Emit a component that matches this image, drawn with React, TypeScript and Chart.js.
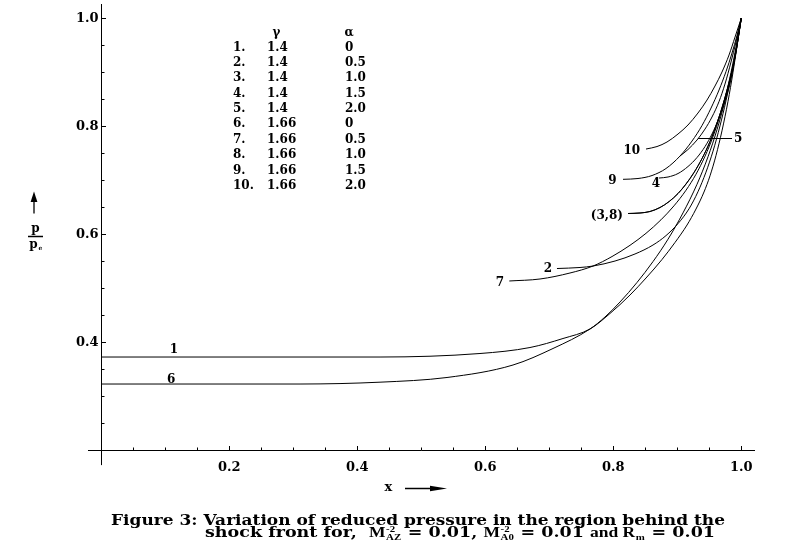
import React, { useEffect, useRef } from 'react';
import { Chart, registerables } from 'chart.js';

Chart.register(...registerables);

type Pt = [number, number];

// ---- data: [x, p/pe] ----
const curve1: Pt[] = [[0, 0.3722], [0.4355, 0.3722], [0.5917, 0.3787], [0.6698, 0.3898], [0.7214, 0.4065], [0.7636, 0.4241], [0.7948, 0.4528], [0.8261, 0.487], [0.8511, 0.5185], [0.8761, 0.5528], [0.8964, 0.5843], [0.9152, 0.6167], [0.9292, 0.6463], [0.9417, 0.6778], [0.9511, 0.7078], [0.9605, 0.7456], [0.9698, 0.7911], [0.9792, 0.8456], [0.987, 0.8993], [0.9933, 0.9481], [1, 1]];
const curve2: Pt[] = [[0.712, 0.5361], [0.748, 0.538], [0.7683, 0.5407], [0.8027, 0.55], [0.8339, 0.563], [0.862, 0.5796], [0.8823, 0.597], [0.9011, 0.6193], [0.9183, 0.6467], [0.9323, 0.6783], [0.9448, 0.7146], [0.9558, 0.7535], [0.9667, 0.8002], [0.9761, 0.8469], [0.9839, 0.8913], [0.9917, 0.9413], [1, 1]];
const curve3: Pt[] = [[0.823, 0.638], [0.8417, 0.6389], [0.8573, 0.6417], [0.873, 0.6491], [0.8873, 0.6602], [0.9011, 0.675], [0.9136, 0.6926], [0.9261, 0.7139], [0.9386, 0.7398], [0.9511, 0.7713], [0.962, 0.8056], [0.973, 0.8463], [0.9823, 0.887], [0.9902, 0.9278], [1, 1]];
const curve4: Pt[] = [[0.8714, 0.7037], [0.8855, 0.7056], [0.9011, 0.712], [0.9167, 0.725], [0.9308, 0.7417], [0.9433, 0.762], [0.9542, 0.7852], [0.9652, 0.8148], [0.9745, 0.8463], [0.9839, 0.887], [0.9917, 0.937], [1, 1]];
const curve5: Pt[] = [[0.9042, 0.7444], [0.9167, 0.7565], [0.9308, 0.7741], [0.9433, 0.7944], [0.9542, 0.8167], [0.9652, 0.8454], [0.9745, 0.8778], [0.9839, 0.9185], [0.9917, 0.9556], [1, 1]];
const curve6: Pt[] = [[0, 0.3222], [0.3105, 0.3222], [0.4355, 0.3256], [0.5402, 0.3343], [0.6433, 0.3574], [0.7058, 0.388], [0.7636, 0.4241], [0.787, 0.4463], [0.8105, 0.4741], [0.837, 0.5102], [0.862, 0.5489], [0.8855, 0.5904], [0.9089, 0.6391], [0.9308, 0.6922], [0.948, 0.7431], [0.962, 0.7931], [0.9745, 0.8465], [0.987, 0.9102], [1, 1]];
const curve7: Pt[] = [[0.6375, 0.513], [0.6855, 0.5167], [0.7323, 0.5278], [0.7683, 0.5407], [0.798, 0.5583], [0.8261, 0.5791], [0.8511, 0.6013], [0.8745, 0.6263], [0.8948, 0.6522], [0.9136, 0.6811], [0.9292, 0.7107], [0.9433, 0.7441], [0.9558, 0.7804], [0.9667, 0.8193], [0.9761, 0.8593], [0.9839, 0.8991], [0.9917, 0.9454], [1, 1]];
// curve 8 coincides with curve 3 in the figure (label "(3,8)")
const curve8: Pt[] = [[0.823, 0.638], [0.8417, 0.6389], [0.8573, 0.6417], [0.873, 0.6491], [0.8873, 0.6602], [0.9011, 0.675], [0.9136, 0.6926], [0.9261, 0.7139], [0.9386, 0.7398], [0.9511, 0.7713], [0.962, 0.8056], [0.973, 0.8463], [0.9823, 0.887], [0.9902, 0.9278], [1, 1]];
const curve9: Pt[] = [[0.8152, 0.7013], [0.8386, 0.7028], [0.8605, 0.7083], [0.8823, 0.7213], [0.9042, 0.7444], [0.923, 0.7722], [0.9386, 0.8009], [0.9527, 0.8333], [0.9652, 0.8667], [0.9761, 0.9009], [0.9855, 0.9352], [0.9933, 0.9676], [1, 1]];
const curve10: Pt[] = [[0.8511, 0.7574], [0.8683, 0.762], [0.8839, 0.7704], [0.9011, 0.7852], [0.9167, 0.8019], [0.9323, 0.8241], [0.9464, 0.8481], [0.9589, 0.8741], [0.9698, 0.9], [0.9808, 0.9315], [0.9902, 0.9648], [1, 1]];

const curves: Pt[][] = [curve1, curve2, curve3, curve4, curve5, curve6, curve7, curve8, curve9, curve10];
const curveNumbers = ['1.', '2.', '3.', '4.', '5.', '6.', '7.', '8.', '9.', '10.'];
const gammaValues = ['1.4', '1.4', '1.4', '1.4', '1.4', '1.66', '1.66', '1.66', '1.66', '1.66'];
const alphaValues = ['0', '0.5', '1.0', '1.5', '2.0', '0', '0.5', '1.0', '1.5', '2.0'];

const xTickLabels = [0.2, 0.4, 0.6, 0.8, 1.0];
const yTickLabels = [0.4, 0.6, 0.8, 1.0];
const minorStep = 0.05;

// curve labels placed in data coordinates
const curveLabelText = ['1', '6', '7', '2', '(3,8)', '9', '4', '10', '5'];
const curveLabelX = [0.1136, 0.1092, 0.623, 0.698, 0.79, 0.7985, 0.8666, 0.8288, 0.9953];
const curveLabelY = [0.387, 0.3315, 0.5111, 0.537, 0.635, 0.7, 0.6938, 0.7556, 0.7783];
const leader5X = [0.9323, 0.9855];
const leader5Y = 0.7783;

const captionLine1 = 'Figure 3: Variation of reduced pressure in the region behind the';

const SERIF = '"DejaVu Serif"';
const TIMES = '"Liberation Serif"';

type Seg = { t?: string; sup?: string; sub?: string; f: string };
const captionLine2: Seg[] = [
  { t: 'shock front for,  ', f: SERIF },
  { t: 'M', f: TIMES },
  { sup: '-2', sub: 'AZ', f: TIMES },
  { t: ' = 0.01, ', f: SERIF },
  { t: 'M', f: TIMES },
  { sup: '-2', sub: 'A0', f: TIMES },
  { t: ' = 0.01 ', f: SERIF },
  { t: 'and', f: TIMES },
  { t: ' R', f: TIMES },
  { sub: 'm', f: TIMES },
  { t: ' = 0.01', f: SERIF },
];

function segWidth(ctx: CanvasRenderingContext2D, s: Seg, size: number) {
  if (s.t !== undefined) {
    ctx.font = `bold ${size}px ${s.f}`;
    return ctx.measureText(s.t).width;
  }
  ctx.font = `bold ${size * 0.62}px ${s.f}`;
  const a = s.sup ? ctx.measureText(s.sup).width : 0;
  const b = s.sub ? ctx.measureText(s.sub).width : 0;
  return Math.max(a, b) + 1;
}

const paperPlugin = {
  id: 'paper',
  beforeDraw(chart: any) {
    const ctx: CanvasRenderingContext2D = chart.ctx;
    ctx.save();
    ctx.fillStyle = '#fff';
    ctx.fillRect(0, 0, chart.width, chart.height);
    ctx.restore();
  },
  afterDatasetsDraw(chart: any) {
    const ctx: CanvasRenderingContext2D = chart.ctx;
    const xs = chart.scales.x;
    const ys = chart.scales.y;
    const px = (v: number) => xs.getPixelForValue(v);
    const py = (v: number) => ys.getPixelForValue(v);
    ctx.save();
    ctx.strokeStyle = '#000';
    ctx.fillStyle = '#000';
    ctx.lineWidth = 1;

    const ax = Math.round(px(0)) + 0.5;
    const ay = Math.round(py(0.2)) + 0.5;
    // axes (crossing at x = 0, y = 0.2)
    ctx.beginPath();
    ctx.moveTo(px(-0.0208), ay);
    ctx.lineTo(px(1.0214), ay);
    ctx.moveTo(ax, py(1.026));
    ctx.lineTo(ax, py(0.172));
    ctx.stroke();

    // x ticks (inside, pointing up)
    ctx.beginPath();
    for (let i = 1; i <= 20; i++) {
      const v = i * minorStep;
      const major = i % 4 === 0;
      const x = Math.round(px(v)) + 0.5;
      ctx.moveTo(x, ay);
      ctx.lineTo(x, ay - (major ? 4.5 : 3));
    }
    // y ticks (inside, pointing right)
    for (let i = 5; i <= 20; i++) {
      const v = i * minorStep;
      const major = i % 4 === 0;
      const y = Math.round(py(v)) + 0.5;
      ctx.moveTo(ax, y);
      ctx.lineTo(ax + (major ? 4.5 : 3), y);
    }
    ctx.stroke();

    // tick labels
    ctx.font = `bold 13px ${SERIF}`;
    ctx.textAlign = 'center';
    ctx.textBaseline = 'middle';
    xTickLabels.forEach((v) => ctx.fillText(v.toFixed(1), px(v), ay + 17));
    ctx.textAlign = 'right';
    yTickLabels.forEach((v) => ctx.fillText(v.toFixed(1), ax - 3, py(v) + 1));

    // curve labels
    ctx.font = `bold 12px ${SERIF}`;
    ctx.textAlign = 'center';
    curveLabelText.forEach((t, i) => ctx.fillText(t, px(curveLabelX[i]), py(curveLabelY[i]) + 1));
    ctx.beginPath();
    ctx.lineWidth = 1.2;
    ctx.moveTo(px(leader5X[0]), Math.round(py(leader5Y)) + 0.5);
    ctx.lineTo(px(leader5X[1]), Math.round(py(leader5Y)) + 0.5);
    ctx.stroke();

    // legend table
    ctx.font = `bold 12px ${SERIF}`;
    ctx.textAlign = 'center';
    ctx.fillText('γ', 276.5, 33);
    ctx.fillText('α', 349, 33);
    ctx.textAlign = 'left';
    curveNumbers.forEach((n, i) => {
      const y = 47.5 + i * 15.37;
      ctx.fillText(n, 233, y);
      ctx.fillText(gammaValues[i], 267, y);
      ctx.fillText(alphaValues[i], 345, y);
    });

    // y-axis label: arrow and p / pe
    ctx.lineWidth = 1.3;
    ctx.beginPath();
    ctx.moveTo(34, 213.5);
    ctx.lineTo(34, 200);
    ctx.stroke();
    ctx.beginPath();
    ctx.moveTo(34, 191.5);
    ctx.lineTo(30.6, 202);
    ctx.lineTo(37.4, 202);
    ctx.closePath();
    ctx.fill();
    ctx.font = `bold 12px ${SERIF}`;
    ctx.textAlign = 'center';
    ctx.fillText('p', 35.5, 229);
    ctx.beginPath();
    ctx.lineWidth = 1.5;
    ctx.moveTo(28, 236.5);
    ctx.lineTo(43, 236.5);
    ctx.stroke();
    ctx.fillText('p', 33.5, 245);
    ctx.font = `bold 6px ${SERIF}`;
    ctx.fillText('e', 40.5, 248);

    // x-axis label with arrow
    ctx.font = `bold 13px ${SERIF}`;
    ctx.fillText('x', 388.5, 487.5);
    ctx.beginPath();
    ctx.lineWidth = 1.5;
    ctx.moveTo(405, 488.5);
    ctx.lineTo(433, 488.5);
    ctx.stroke();
    ctx.beginPath();
    ctx.moveTo(447, 488.5);
    ctx.lineTo(430, 485.8);
    ctx.lineTo(430, 491.2);
    ctx.closePath();
    ctx.fill();

    // caption: wide bold face, stretched horizontally to the original's extent
    const capSize = 14.5;
    ctx.textAlign = 'left';
    ctx.textBaseline = 'alphabetic';
    ctx.font = `bold ${capSize}px ${SERIF}`;
    const w1 = ctx.measureText(captionLine1).width;
    ctx.save();
    ctx.translate(111, 525);
    ctx.scale(614 / w1, 1);
    ctx.fillText(captionLine1, 0, 0);
    ctx.restore();

    let total = 0;
    captionLine2.forEach((s) => (total += segWidth(ctx, s, capSize)));
    ctx.save();
    ctx.translate(205, 537);
    ctx.scale(510 / total, 1);
    let cx = 0;
    captionLine2.forEach((s) => {
      const w = segWidth(ctx, s, capSize);
      if (s.t !== undefined) {
        ctx.font = `bold ${capSize}px ${s.f}`;
        ctx.fillText(s.t, cx, 0);
      } else {
        ctx.font = `bold ${capSize * 0.62}px ${s.f}`;
        if (s.sup) ctx.fillText(s.sup, cx + 0.5, -5);
        if (s.sub) ctx.fillText(s.sub, cx + 0.5, 2.5);
      }
      cx += w;
    });
    ctx.restore();

    ctx.restore();
  },
};

export default function App() {
  const ref = useRef<HTMLCanvasElement | null>(null);
  useEffect(() => {
    const canvas = ref.current;
    if (!canvas) return;
    const chart = new Chart(canvas, {
      type: 'line',
      data: {
        datasets: curves.map((c, i) => ({
          label: curveNumbers[i],
          data: c.map(([x, y]) => ({ x, y })),
          borderColor: '#000',
          borderWidth: 1,
          pointRadius: 0,
          fill: false,
          cubicInterpolationMode: 'monotone' as const,
        })),
      },
      options: {
        responsive: false,
        animation: false,
        devicePixelRatio: 1,
        layout: { padding: { left: 101.3, right: 43, top: 4, bottom: 91 } },
        scales: {
          x: { type: 'linear', min: 0, max: 1.0214, display: false },
          y: { type: 'linear', min: 0.2, max: 1.026, display: false },
        },
        plugins: { legend: { display: false }, tooltip: { enabled: false }, title: { display: false } },
        events: [],
      },
      plugins: [paperPlugin],
    });
    return () => chart.destroy();
  }, []);
  return (
    <div style={{ position: 'absolute', left: 0, top: 0, width: 798, height: 541, background: '#fff' }}>
      <canvas ref={ref} width={798} height={541} style={{ display: 'block', width: 798, height: 541 }} />
    </div>
  );
}
